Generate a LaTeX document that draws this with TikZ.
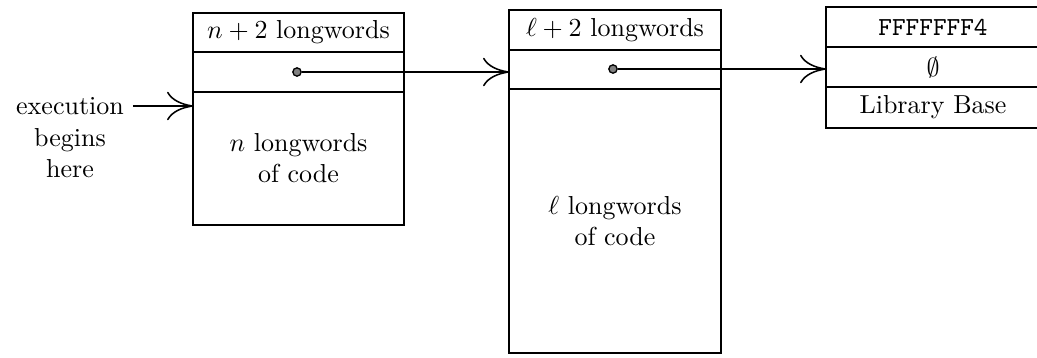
\documentclass[tikz,border=0pt]{standalone}
\usepackage{amsmath}
\usepackage{amssymb}
\usepackage{tikz}
\usetikzlibrary{arrows.meta}
\newcommand{\pxu}{0.3846pt}
\tikzset{
	cell/.style = {
		draw,
		shape        = rectangle,
		inner sep    = 0pt,
		outer sep    = 0pt,
		anchor       = north west,
		line width   = 0.7pt,
	},
	ptrdot/.style = {
		draw,
		shape        = circle,
		fill         = gray,
		inner sep    = 0pt,
		minimum size = 3.2pt,
		line width   = 0.5pt,
	},
	ptr/.style = {
		line width = 0.6pt,
		-{Computer Modern Rightarrow[length = 10pt, width = 11pt]},
	},
}

\begin{document}
\begin{tikzpicture}[x = \pxu, y = -\pxu]
                    \useasboundingbox (0, 0) rectangle (1037, 357);

                    % program hunk
                    \node[cell, minimum width = 211*\pxu, minimum height = 39*\pxu]
                        (nhead) at (193, 13) {$n+2$ longwords};
                    \node[cell, minimum width = 211*\pxu, minimum height = 40*\pxu]
                        (nptr) at (nhead.south west) {};
                    \node[cell, minimum width = 211*\pxu, minimum height = 133*\pxu, align = center]
                        (ncode) at (nptr.south west) {$n$ longwords\\of code};

                    % library hunk
                    \node[cell, minimum width = 212*\pxu, minimum height = 40*\pxu]
                        (lhead) at (509, 10) {$\ell+2$ longwords};
                    \node[cell, minimum width = 212*\pxu, minimum height = 39*\pxu]
                        (lptr) at (lhead.south west) {};
                    \node[cell, minimum width = 212*\pxu, minimum height = 264*\pxu, align = center]
                        (lcode) at (lptr.south west) {$\ell$ longwords\\of code};

                    % data block
                    \node[cell, minimum width = 214*\pxu, minimum height = 40*\pxu]
                        (dmark) at (826, 7) {\texttt{FFFFFFF4}};
                    \node[cell, minimum width = 214*\pxu, minimum height = 40*\pxu]
                        (dnull) at (dmark.south west) {$\emptyset$};
                    \node[cell, minimum width = 214*\pxu, minimum height = 41*\pxu]
                        (dbase) at (dnull.south west) {Library Base};

                    % entry point
                    \node (exec) at (70, 106) {execution};
                    \node[align = center] (begins) at (70, 153) {begins\\here};
                    \draw[ptr] (exec.east) -- (exec.east -| ncode.west);

                    % pointers
                    \node[ptrdot] (ndot) at (297, 72) {};
                    \node[ptrdot] (ldot) at (613, 69) {};
                    \draw[ptr] (ndot.east) -- (ndot -| lptr.west);
                    \draw[ptr] (ldot.east) -- (ldot -| dnull.west);
                \end{tikzpicture}
\end{document}
